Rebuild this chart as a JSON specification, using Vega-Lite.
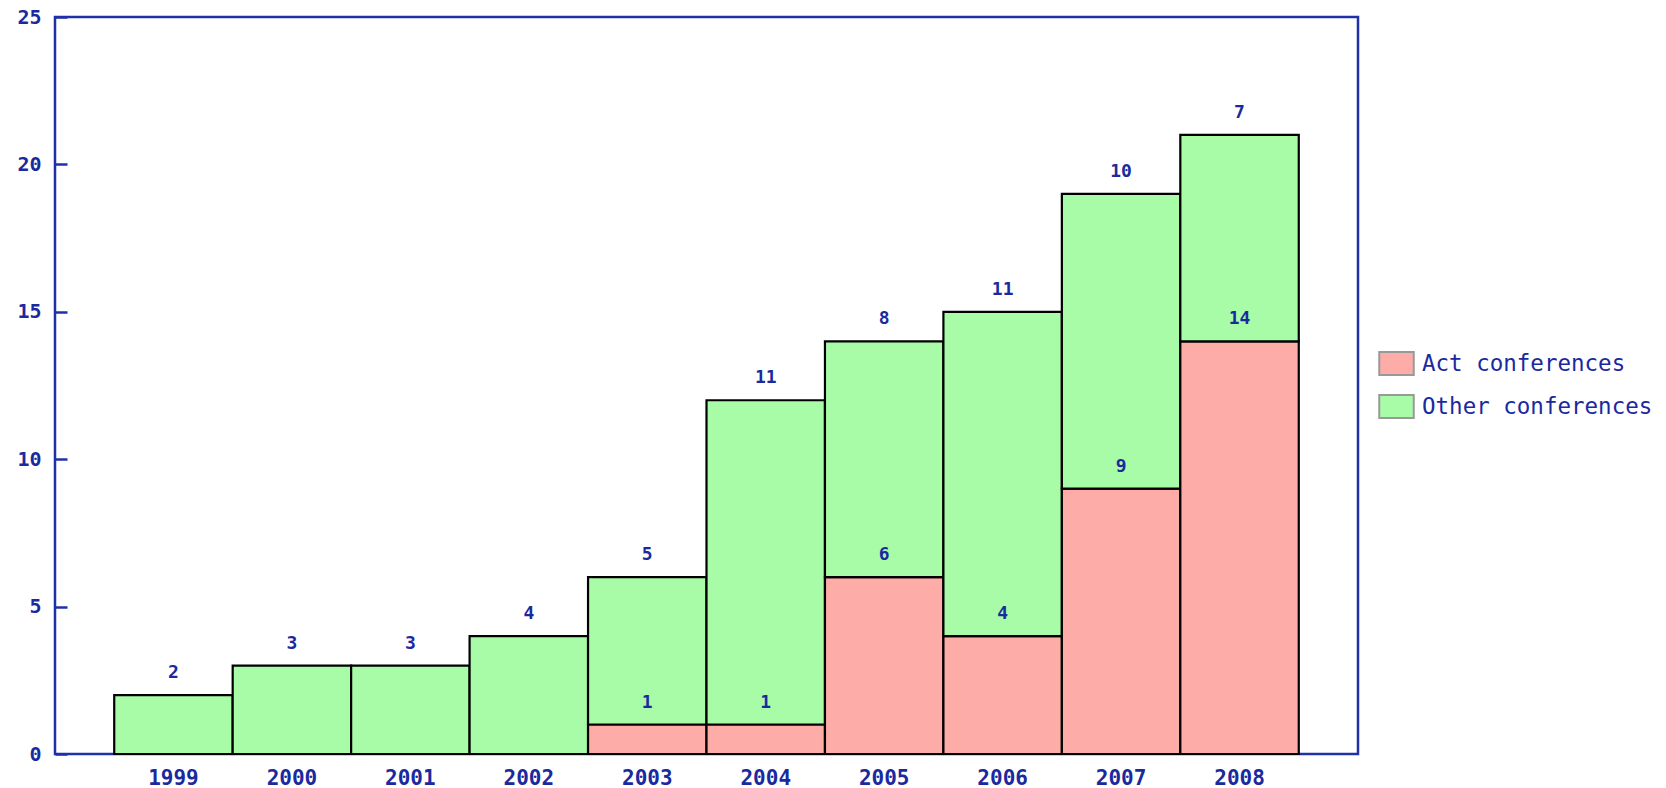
{
  "$schema": "https://vega.github.io/schema/vega-lite/v6.json",
  "autosize": "none",
  "width": 1303,
  "height": 737,
  "padding": {"left": 55, "top": 17, "right": 308, "bottom": 34},
  "background": "white",
  "config": {
    "view": {"stroke": "#2030a8", "strokeWidth": 2.5},
    "font": "DejaVu Sans Mono"
  },
  "data": {
    "values": [
      {"year": "1999", "series": "Act conferences", "value": 0},
      {"year": "1999", "series": "Other conferences", "value": 2},
      {"year": "2000", "series": "Act conferences", "value": 0},
      {"year": "2000", "series": "Other conferences", "value": 3},
      {"year": "2001", "series": "Act conferences", "value": 0},
      {"year": "2001", "series": "Other conferences", "value": 3},
      {"year": "2002", "series": "Act conferences", "value": 0},
      {"year": "2002", "series": "Other conferences", "value": 4},
      {"year": "2003", "series": "Act conferences", "value": 1},
      {"year": "2003", "series": "Other conferences", "value": 5},
      {"year": "2004", "series": "Act conferences", "value": 1},
      {"year": "2004", "series": "Other conferences", "value": 11},
      {"year": "2005", "series": "Act conferences", "value": 6},
      {"year": "2005", "series": "Other conferences", "value": 8},
      {"year": "2006", "series": "Act conferences", "value": 4},
      {"year": "2006", "series": "Other conferences", "value": 11},
      {"year": "2007", "series": "Act conferences", "value": 9},
      {"year": "2007", "series": "Other conferences", "value": 10},
      {"year": "2008", "series": "Act conferences", "value": 14},
      {"year": "2008", "series": "Other conferences", "value": 7}
    ]
  },
  "encoding": {
    "x": {
      "field": "year",
      "type": "ordinal",
      "scale": {"paddingInner": 0, "paddingOuter": 0.5},
      "axis": {
        "title": null,
        "labelAngle": 0,
        "domain": false,
        "ticks": false,
        "labelPadding": 13,
        "labelColor": "#1a2a9e",
        "labelFont": "DejaVu Sans Mono",
        "labelFontWeight": "bold",
        "labelFontSize": 21
      }
    },
    "y": {
      "field": "value",
      "type": "quantitative",
      "stack": "zero",
      "scale": {"domain": [0, 25], "nice": false},
      "axis": {
        "title": null,
        "values": [0, 5, 10, 15, 20, 25],
        "grid": false,
        "domain": false,
        "ticks": true,
        "tickSize": -12,
        "tickWidth": 2.5,
        "tickColor": "#2030a8",
        "labelPadding": 26,
        "labelColor": "#1a2a9e",
        "labelFont": "DejaVu Sans Mono",
        "labelFontWeight": "bold",
        "labelFontSize": 20
      }
    },
    "order": {"field": "series", "sort": "ascending"},
    "detail": {"field": "series"}
  },
  "layer": [
    {
      "mark": {"type": "bar", "stroke": "black", "strokeWidth": 2.2, "strokeOpacity": 1},
      "encoding": {
        "color": {
          "field": "series",
          "type": "nominal",
          "scale": {
            "domain": ["Act conferences", "Other conferences"],
            "range": ["#fdaca8", "#a8fca8"]
          },
          "legend": {
            "title": null,
            "orient": "none",
            "legendX": 1329,
            "legendY": 334,
            "symbolType": "M-1.5,-1H1.5V1H-1.5Z",
            "symbolSize": 529,
            "symbolStrokeColor": "#999999",
            "symbolStrokeWidth": 2,
            "labelFont": "DejaVu Sans Mono",
            "labelFontSize": 22.5,
            "labelColor": "#1a2a9e",
            "labelOffset": 13,
            "rowPadding": 12,
            "labelLimit": 400,
            "encode": {
              "symbols": {"update": {"stroke": {"value": "#999999"}, "strokeWidth": {"value": 2}, "fillOpacity": {"value": 1}}}
            }
          }
        }
      }
    },
    {
      "transform": [{"filter": "datum.value > 0"}],
      "mark": {
        "type": "text",
        "baseline": "middle",
        "align": "center",
        "dy": -22,
        "font": "DejaVu Sans Mono",
        "fontWeight": "bold",
        "fontSize": 18,
        "color": "#1a2a9e"
      },
      "encoding": {
        "text": {"field": "value", "type": "quantitative"}
      }
    }
  ]
}
